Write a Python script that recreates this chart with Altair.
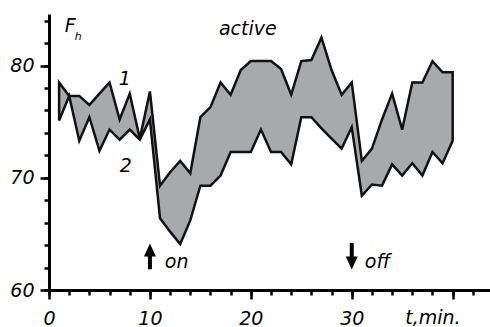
import altair as alt
import pandas as pd

# time (min)
t = list(range(1, 41))
# curve 1 (upper)
upper = [78.5, 77.3, 77.3, 76.5, 77.5, 78.5, 75.2, 77.5, 73.5, 77.7,
         69.3, 70.5, 71.5, 70.4, 75.4, 76.3, 78.5, 77.4, 79.6, 80.4,
         80.4, 80.4, 79.7, 77.4, 80.4, 80.5, 82.5, 79.6, 77.4, 78.5,
         71.5, 72.6, 75.2, 77.5, 74.3, 78.5, 78.5, 80.4, 79.4, 79.4]
# curve 2 (lower)
lower = [75.1, 77.3, 73.3, 75.4, 72.4, 74.3, 73.4, 74.3, 73.4, 75.2,
         66.4, 65.2, 64.1, 66.2, 69.3, 69.3, 70.2, 72.3, 72.3, 72.3,
         74.3, 72.3, 72.3, 71.2, 75.4, 75.4, 74.4, 73.5, 72.6, 74.5,
         68.4, 69.4, 69.3, 71.2, 70.2, 71.3, 70.2, 72.3, 71.3, 73.3]

x_major = [0, 10, 20, 30, 40]
x_minor = list(range(0, 43, 2))
y_major = [60, 70, 80]
y_minor = list(range(60, 85, 2))

# annotations (data coordinates)
ann_text = ["F", "active", "1", "2", "on", "off", "t,min."]
ann_x = [1.57, 19.7, 7.5, 7.6, 11.48, 31.3, 35.3]
ann_y = [83.0, 82.73, 78.27, 70.52, 61.95, 61.96, 56.97]
ann_align = ["left", "center", "center", "center", "left", "left", "left"]

sub_text = ["h"]
sub_x = [2.55]
sub_y = [82.28]

arrow_t = [10, 30]
arrow_shaft_from = [63.12, 64.19]
arrow_shaft_to = [61.85, 62.85]
arrow_head = [63.57, 62.41]
arrow_dir = ["up", "down"]

FONT = "DejaVu Sans"
XDOM = [0, 43.7]
YDOM = [60, 84.6]

df = pd.DataFrame({"t": t, "upper": upper, "lower": lower})
ann = pd.DataFrame({"text": ann_text, "x": ann_x, "y": ann_y, "align": ann_align})
sub = pd.DataFrame({"text": sub_text, "x": sub_x, "y": sub_y})
arr = pd.DataFrame({"t": arrow_t, "y1": arrow_shaft_from, "y2": arrow_shaft_to,
                    "head": arrow_head, "dir": arrow_dir})

xscale = alt.Scale(domain=XDOM, nice=False, zero=False)
yscale = alt.Scale(domain=YDOM, nice=False, zero=False)

common = dict(title=None, grid=False, domainColor="black", domainWidth=3,
              tickColor="black", tickWidth=2.5,
              labelFont=FONT, labelFontStyle="italic", labelFontSize=19,
              labelColor="black", labelFlush=False, labelOverlap=False)

x_major_axis = alt.Axis(values=x_major, orient="bottom", tickSize=9, labelPadding=10,
                        labelExpr="datum.value < 40 ? datum.label : ''", **common)
y_major_axis = alt.Axis(values=y_major, orient="left", tickSize=9, labelPadding=6, **common)
x_minor_axis = alt.Axis(values=x_minor, orient="bottom", tickSize=5, labels=False,
                        domain=False, title=None, grid=False, tickColor="black", tickWidth=2.5)
y_minor_axis = alt.Axis(values=y_minor, orient="left", tickSize=5, labels=False,
                        domain=False, title=None, grid=False, tickColor="black", tickWidth=2.5)

minor = alt.Chart(df).mark_point(opacity=0).encode(
    x=alt.X("t:Q", scale=xscale, axis=x_minor_axis),
    y=alt.Y("upper:Q", scale=yscale, axis=y_minor_axis),
)

area = alt.Chart(df).mark_area(fill="#a8a9ad", stroke="#111111", strokeWidth=2.5,
                               strokeJoin="miter").encode(
    x=alt.X("t:Q", scale=xscale, axis=x_major_axis),
    y=alt.Y("upper:Q", scale=yscale, axis=y_major_axis),
    y2="lower:Q",
)

def text_layer(align):
    return alt.Chart(ann).transform_filter(
        alt.datum.align == align
    ).mark_text(font=FONT, fontStyle="italic", fontSize=19, align=align,
                baseline="alphabetic", color="black").encode(
        x=alt.X("x:Q", scale=xscale, axis=None),
        y=alt.Y("y:Q", scale=yscale, axis=None),
        text="text:N",
    )

subs = alt.Chart(sub).mark_text(font=FONT, fontStyle="italic", fontSize=11,
                                baseline="alphabetic", align="left", color="black").encode(
    x=alt.X("x:Q", scale=xscale, axis=None),
    y=alt.Y("y:Q", scale=yscale, axis=None),
    text="text:N",
)

shafts = alt.Chart(arr).mark_rule(color="black", strokeWidth=4).encode(
    x=alt.X("t:Q", scale=xscale, axis=None),
    y=alt.Y("y1:Q", scale=yscale, axis=None),
    y2="y2:Q",
)

heads = alt.Chart(arr).mark_point(filled=True, color="black", opacity=1, size=169).encode(
    x=alt.X("t:Q", scale=xscale, axis=None),
    y=alt.Y("head:Q", scale=yscale, axis=None),
    shape=alt.Shape("dir:N", scale=alt.Scale(domain=["up", "down"],
                    range=["M -0.92 1 L 0 -1 L 0.92 1 Z", "M -0.92 -1 L 0 1 L 0.92 -1 Z"]),
                    legend=None),
)

chart = alt.layer(minor, area, shafts, heads, text_layer("left"), text_layer("center"), subs).resolve_axis(
    x="independent", y="independent"
).properties(
    width=441, height=276,
    autosize=alt.AutoSizeParams(type="none"),
    padding={"left": 49, "top": 14, "right": 0, "bottom": 37},
    background="white",
).configure_view(stroke=None)

chart.save("out.html", embed_options={"renderer": "svg", "actions": False})
